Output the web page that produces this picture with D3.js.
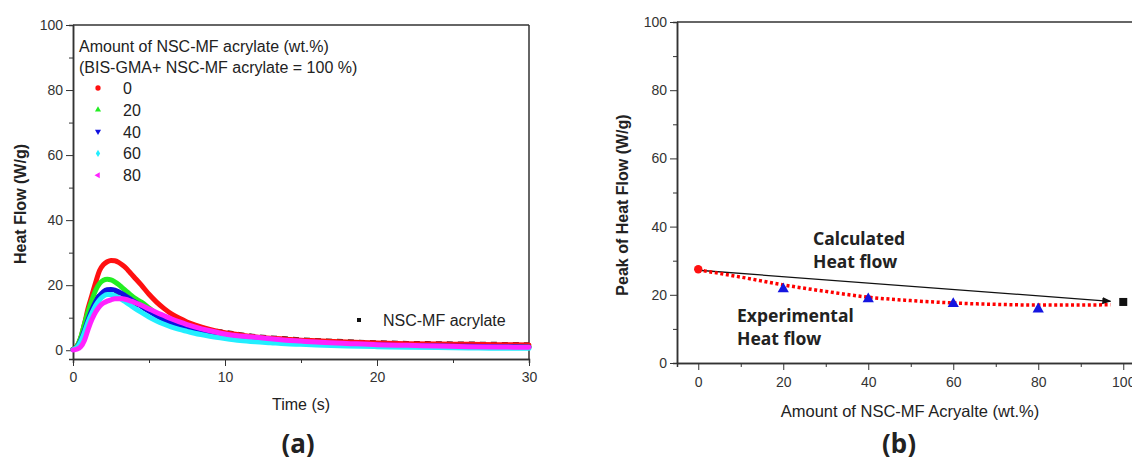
<!doctype html>
<html>
<head>
<meta charset="UTF-8">
<title>Heat flow</title>
<script src="https://d3js.org/d3.v7.min.js"></script>
<style>
  body { margin: 0; background: #fff; }
  svg text { font-family: Arial, "Liberation Sans", sans-serif; fill: #222; }
  .tick text { fill: #333; }
  .domain, .tick line { stroke: #333; }
</style>
</head>
<body>
<svg id="chart" width="1132" height="457"></svg>
<script>
// ---- panel (a) data: heat flow vs time, one array per composition ----
var times = [0, 0.25, 0.5, 0.75, 1, 1.25, 1.5, 1.75, 2, 2.25, 2.5, 2.75, 3, 3.25, 3.5, 3.75, 4, 4.5, 5, 5.5,
             6, 6.5, 7, 7.5, 8, 9, 10, 11, 12, 13, 14, 15, 16, 18, 20, 22, 24, 26, 28, 30];
var flow0  = [0.3, 1.2, 3.6, 8.0, 13.0, 17.0, 21.0, 24.5, 26.3, 27.2, 27.6, 27.5, 27.0, 26.2, 25.2, 23.9, 22.6, 20.0, 17.2, 14.8,
              12.8, 11.1, 9.8, 8.7, 7.8, 6.4, 5.4, 4.7, 4.1, 3.7, 3.4, 3.1, 2.9, 2.5, 2.2, 2.0, 1.9, 1.8, 1.7, 1.6];
var flow20 = [0.3, 1.2, 3.8, 8.0, 12.0, 15.5, 18.5, 20.5, 21.5, 21.8, 21.6, 21.0, 20.2, 19.2, 18.2, 17.2, 16.2, 14.8, 13.0, 11.2,
              9.7, 8.5, 7.5, 6.7, 6.0, 4.9, 4.1, 3.5, 3.0, 2.6, 2.3, 2.1, 1.9, 1.6, 1.4, 1.3, 1.2, 1.1, 1.0, 1.0];
var flow40 = [0.2, 0.8, 2.8, 6.0, 9.5, 12.5, 15.0, 16.8, 18.0, 18.6, 18.7, 18.5, 18.0, 17.3, 16.6, 15.8, 15.0, 13.5, 12.0, 10.6,
              9.4, 8.4, 7.6, 6.9, 6.2, 5.1, 4.3, 3.7, 3.2, 2.8, 2.5, 2.3, 2.1, 1.8, 1.6, 1.4, 1.3, 1.2, 1.1, 1.0];
var flow60 = [0.2, 0.8, 2.6, 5.5, 8.8, 11.5, 13.8, 15.5, 16.6, 17.1, 17.1, 16.8, 16.2, 15.5, 14.7, 13.9, 13.1, 11.6, 10.2, 9.0,
              8.0, 7.1, 6.4, 5.8, 5.2, 4.3, 3.6, 3.0, 2.6, 2.3, 2.0, 1.8, 1.6, 1.3, 1.1, 0.9, 0.8, 0.7, 0.6, 0.6];
var flow80 = [0.1, 0.3, 1.0, 3.0, 6.5, 9.5, 11.8, 13.5, 14.5, 15.1, 15.5, 15.8, 15.8, 15.8, 15.6, 15.2, 14.8, 13.8, 12.7, 11.6,
              10.6, 9.6, 8.7, 7.9, 7.2, 6.0, 5.0, 4.4, 4.0, 3.5, 3.1, 2.8, 2.5, 2.1, 1.7, 1.5, 1.3, 1.1, 1.0, 0.9];
var flowNsc = [0.2, 1.0, 3.5, 7.0, 10.5, 13.2, 15.3, 16.8, 17.6, 18.0, 18.0, 17.7, 17.2, 16.6, 16.0, 15.3, 14.7, 13.4, 12.2, 11.1,
              10.1, 9.2, 8.4, 7.7, 7.1, 6.1, 5.5, 4.8, 4.2, 3.8, 3.5, 3.2, 3.0, 2.6, 2.3, 2.1, 2.0, 1.9, 1.8, 1.7];
var seriesNames = ["0", "20", "40", "60", "80"];

// ---- panel (b) data: peak heat flow vs amount ----
var peakAmount = [0, 20, 40, 60, 80];
var peakFlow = [27.5, 21.7, 18.8, 17.4, 15.8];
var nscAmount = 100, nscPeak = 17.9;
var fitAmount = [0, 10, 20, 30, 40, 50, 60, 70, 80, 90, 97];
var fitFlow = [27.3, 25.2, 22.9, 21.0, 19.3, 18.3, 17.6, 17.2, 17.0, 17.0, 17.1];
var calcAmount = [0, 97], calcFlow = [27.2, 18.1];

var svg = d3.select("#chart");

// ================= panel (a) =================
var xa = d3.scaleLinear().domain([0, 30]).range([73, 529]);
var ya = d3.scaleLinear().domain([-2.7, 100]).range([359, 25]);
var ga = svg.append("g");

// frame top/right
ga.append("line").attr("x1", 73).attr("x2", 529).attr("y1", 25).attr("y2", 25).attr("stroke", "#333").attr("stroke-width", 1.5);
ga.append("line").attr("x1", 529).attr("x2", 529).attr("y1", 25).attr("y2", 359).attr("stroke", "#333").attr("stroke-width", 1.5);

ga.append("g").attr("transform", "translate(0,359)")
  .call(d3.axisBottom(xa).tickValues([5, 15, 25]).tickSize(4).tickFormat(""));
ga.append("g").attr("transform", "translate(0,359)")
  .call(d3.axisBottom(xa).tickValues([0, 10, 20, 30]).tickSize(7).tickSizeOuter(0))
  .call(function(g){ g.selectAll("text").attr("font-size", 14).attr("dy", "0.9em"); });
ga.append("g").attr("transform", "translate(73,0)")
  .call(d3.axisLeft(ya).tickValues([10, 30, 50, 70, 90]).tickSize(4).tickFormat(""));
ga.append("g").attr("transform", "translate(73,0)")
  .call(d3.axisLeft(ya).tickValues([0, 20, 40, 60, 80, 100]).tickSize(7).tickSizeOuter(0))
  .call(function(g){ g.selectAll("text").attr("font-size", 14); });
ga.selectAll(".domain").attr("stroke-width", 1.5);

var lineA = function(vals){
  return d3.line().x(function(d, i){ return xa(times[i]); }).y(function(d){ return ya(d); })
    .curve(d3.curveMonotoneX)(vals);
};
ga.append("path").attr("d", lineA(flowNsc)).attr("fill", "none").attr("stroke", "#222")
  .attr("stroke-width", 5).attr("stroke-dasharray", "6,5");
var curves = [[flow0, "#ff1010"], [flow20, "#22ee22"], [flow40, "#1010e0"], [flow60, "#22eeff"], [flow80, "#ff22ff"]];
curves.forEach(function(c){
  ga.append("path").attr("d", lineA(c[0])).attr("fill", "none")
    .attr("stroke", c[1]).attr("stroke-width", 5).attr("stroke-linecap", "round").attr("stroke-linejoin", "round");
});

// legend
ga.append("text").attr("x", 79).attr("y", 52).attr("font-size", 16).text("Amount of NSC-MF acrylate (wt.%)");
ga.append("text").attr("x", 79).attr("y", 73).attr("font-size", 16).text("(BIS-GMA+ NSC-MF acrylate = 100 %)");
var symTypes = [d3.symbolCircle, d3.symbolTriangle, d3.symbolTriangle, d3.symbolDiamond, d3.symbolTriangle];
var symRot = [0, 0, 180, 0, -90];
seriesNames.forEach(function(n, i){
  var yy = 88 + i * 21.8;
  ga.append("path").attr("d", d3.symbol().type(symTypes[i]).size(i === 0 ? 22 : 16)())
    .attr("transform", "translate(98," + yy + ") rotate(" + symRot[i] + ")")
    .attr("fill", curves[i][1]);
  ga.append("text").attr("x", 123).attr("y", yy + 6).attr("font-size", 16).text(n);
});
ga.append("rect").attr("x", 357).attr("y", 318).attr("width", 4).attr("height", 4).attr("fill", "#111");
ga.append("text").attr("x", 383).attr("y", 326).attr("font-size", 16).text("NSC-MF acrylate");

ga.append("text").attr("transform", "translate(26,204) rotate(-90)").attr("text-anchor", "middle")
  .attr("font-size", 16).attr("font-weight", "bold").text("Heat Flow (W/g)");
ga.append("text").attr("x", 301).attr("y", 410).attr("text-anchor", "middle").attr("font-size", 16).text("Time (s)");
ga.append("text").attr("x", 298).attr("y", 453).attr("text-anchor", "middle").attr("font-size", 26)
  .attr("font-weight", "bold").style("font-family", "'Noto Sans', sans-serif").text("(a)");

// ================= panel (b) =================
var xb = d3.scaleLinear().domain([-5, 105]).range([677, 1144.5]);
var yb = d3.scaleLinear().domain([0, 100]).range([363, 22]);
var gb = svg.append("g");

gb.append("line").attr("x1", 677).attr("x2", 1144).attr("y1", 22).attr("y2", 22).attr("stroke", "#333").attr("stroke-width", 1.5);
gb.append("g").attr("transform", "translate(0,363)")
  .call(d3.axisBottom(xb).tickValues([10, 30, 50, 70, 90]).tickSize(4).tickFormat(""));
gb.append("g").attr("transform", "translate(0,363)")
  .call(d3.axisBottom(xb).tickValues([0, 20, 40, 60, 80, 100]).tickSize(7).tickSizeOuter(0))
  .call(function(g){ g.selectAll("text").attr("font-size", 14).attr("dy", "1em"); });
gb.append("g").attr("transform", "translate(677,0)")
  .call(d3.axisLeft(yb).tickValues([10, 30, 50, 70, 90]).tickSize(4).tickFormat(""));
gb.append("g").attr("transform", "translate(677,0)")
  .call(d3.axisLeft(yb).tickValues([0, 20, 40, 60, 80, 100]).tickSize(7).tickSizeOuter(0))
  .call(function(g){ g.selectAll("text").attr("font-size", 14); });
gb.selectAll(".domain").attr("stroke-width", 1.5);

// calculated arrow
svg.append("defs").append("marker").attr("id", "arr").attr("viewBox", "0 0 10 10")
  .attr("refX", 9).attr("refY", 5).attr("markerWidth", 7).attr("markerHeight", 7).attr("orient", "auto")
  .append("path").attr("d", "M0,1 L10,5 L0,9 Z").attr("fill", "#111");
gb.append("line").attr("x1", xb(calcAmount[0])).attr("y1", yb(calcFlow[0]))
  .attr("x2", xb(calcAmount[1])).attr("y2", yb(calcFlow[1]))
  .attr("stroke", "#111").attr("stroke-width", 1.3).attr("marker-end", "url(#arr)");

// experimental fit
gb.append("path").attr("d", d3.line().x(function(d, i){ return xb(fitAmount[i]); }).y(function(d){ return yb(d); })
    .curve(d3.curveMonotoneX)(fitFlow))
  .attr("fill", "none").attr("stroke", "#ff0000").attr("stroke-width", 3.5).attr("stroke-dasharray", "3,2.6");

gb.append("circle").attr("cx", xb(peakAmount[0])).attr("cy", yb(peakFlow[0])).attr("r", 4.2).attr("fill", "#ff1010");
peakAmount.slice(1).forEach(function(a, i){
  gb.append("path").attr("d", d3.symbol().type(d3.symbolTriangle).size(55)())
    .attr("transform", "translate(" + xb(a) + "," + yb(peakFlow[i + 1]) + ")").attr("fill", "#1515e0");
});
gb.append("rect").attr("x", xb(nscAmount) - 4).attr("y", yb(nscPeak) - 4).attr("width", 8).attr("height", 8).attr("fill", "#111");

var bold = "'Noto Sans', sans-serif";
[["Calculated", 813, 245], ["Heat flow", 813, 268], ["Experimental", 737, 322], ["Heat flow", 737, 345]].forEach(function(t){
  gb.append("text").attr("x", t[1]).attr("y", t[2]).attr("font-size", 17.5).attr("font-weight", "bold")
    .style("font-family", bold).text(t[0]);
});

gb.append("text").attr("transform", "translate(628,205) rotate(-90)").attr("text-anchor", "middle")
  .attr("font-size", 16).attr("font-weight", "bold").text("Peak of Heat Flow (W/g)");
gb.append("text").attr("x", 910).attr("y", 417).attr("text-anchor", "middle").attr("font-size", 16.5)
  .text("Amount of NSC-MF Acryalte (wt.%)");
gb.append("text").attr("x", 899).attr("y", 453).attr("text-anchor", "middle").attr("font-size", 26)
  .attr("font-weight", "bold").style("font-family", bold).text("(b)");
</script>
</body>
</html>
